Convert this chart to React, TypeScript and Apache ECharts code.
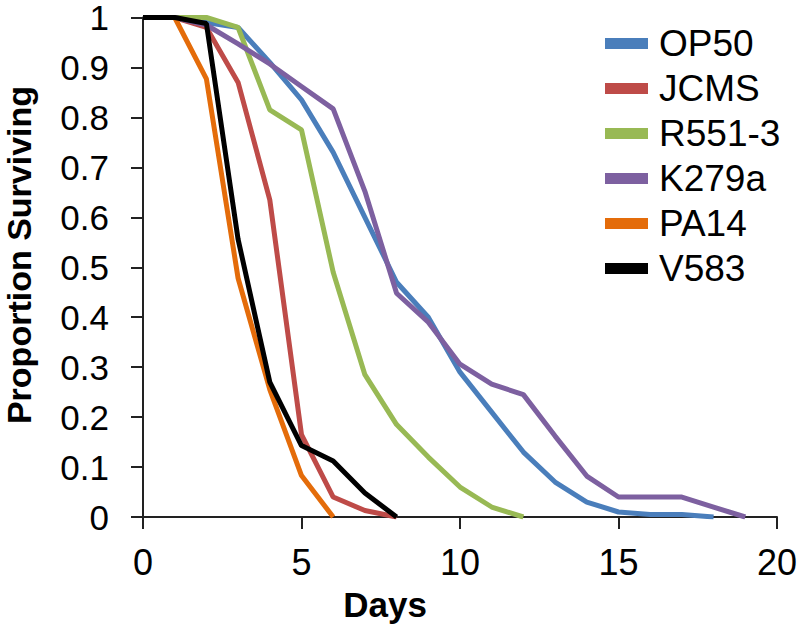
import React, { useEffect, useRef } from "react";
import * as echarts from "echarts";

const days = [0, 1, 2, 3, 4, 5, 6, 7, 8, 9, 10, 11, 12, 13, 14, 15, 16, 17, 18, 19];
const seriesNames = ["OP50", "JCMS", "R551-3", "K279a", "PA14", "V583"];
const seriesColors = ["#4A7EBB", "#BE4B48", "#98B954", "#7D60A0", "#E46C0A", "#000000"];

const op50 = [1, 1, 0.99, 0.98, 0.91, 0.835, 0.73, 0.6, 0.47, 0.4, 0.29, 0.21, 0.13, 0.07, 0.03, 0.01, 0.005, 0.005, 0];
const jcms = [1, 1, 0.98, 0.87, 0.635, 0.165, 0.04, 0.013, 0];
const r5513 = [1, 1, 1, 0.98, 0.815, 0.775, 0.49, 0.285, 0.185, 0.12, 0.06, 0.02, 0];
const k279a = [1, 1, 0.985, 0.947, 0.907, 0.862, 0.817, 0.652, 0.448, 0.39, 0.306, 0.266, 0.245, 0.162, 0.082, 0.04, 0.04, 0.04, 0.02, 0];
const pa14 = [1, 1, 0.877, 0.478, 0.255, 0.083, 0];
const v583 = [1, 1, 0.988, 0.556, 0.27, 0.143, 0.112, 0.048, 0];

const allValues = [op50, jcms, r5513, k279a, pa14, v583];

const xTicks = [0, 5, 10, 15, 20];
const FONT = "'Liberation Sans', Arial, sans-serif";

export default function App() {
  const ref = useRef<HTMLDivElement>(null);
  useEffect(() => {
    document.body.style.margin = "0";
    const chart = echarts.init(ref.current!, null, { renderer: "svg" });
    const series = seriesNames.map((name, i) => ({
      name,
      type: "line",
      data: allValues[i].map((v, d) => [days[d], v]),
      showSymbol: false,
      symbol: "none",
      lineStyle: { color: seriesColors[i], width: 5 },
      itemStyle: { color: seriesColors[i] },
      z: 2 + i,
    }));
    chart.setOption({
      animation: false,
      backgroundColor: "#ffffff",
      grid: { left: 143, right: 20, top: 15, bottom: 111, containLabel: false },
      xAxis: {
        type: "value",
        min: xTicks[0],
        max: xTicks[xTicks.length - 1],
        interval: 5,
        splitLine: { show: false },
        axisLine: { show: true, onZero: false, lineStyle: { color: "#222", width: 2 } },
        axisTick: { show: true, length: 12, lineStyle: { color: "#222", width: 2 } },
        axisLabel: { fontFamily: FONT, fontSize: 36, color: "#000", margin: 27 },
      },
      yAxis: {
        type: "value",
        min: 0,
        max: 1,
        interval: 0.1,
        splitLine: { show: false },
        axisLine: { show: true, onZero: false, lineStyle: { color: "#222", width: 2 } },
        axisTick: { show: true, length: 12, lineStyle: { color: "#222", width: 2 } },
        axisLabel: {
          fontFamily: FONT,
          fontSize: 35,
          lineHeight: 26,
          color: "#000",
          margin: 34,
          formatter: (v: number) => String(Number(v.toFixed(1))),
        },
      },
      legend: {
        orient: "vertical",
        left: 600,
        top: 20,
        icon: "rect",
        itemWidth: 43,
        itemHeight: 11,
        itemGap: 8,
        data: seriesNames,
        textStyle: { fontFamily: FONT, fontSize: 37, color: "#000", lineHeight: 37, padding: [0, 0, 0, 6] },
      },
      graphic: [
        {
          type: "text",
          x: 385,
          y: 604,
          style: {
            text: "Days",
            fontFamily: FONT,
            fontSize: 35,
            fontWeight: "bold",
            fill: "#000",
            align: "center",
            verticalAlign: "middle",
          },
        },
        {
          type: "text",
          x: 19,
          y: 255,
          rotation: Math.PI / 2,
          style: {
            text: "Proportion Surviving",
            fontFamily: FONT,
            fontSize: 34,
            lineHeight: 30,
            fontWeight: "bold",
            fill: "#000",
            align: "center",
            verticalAlign: "middle",
          },
        },
      ],
      series,
    });
    return () => chart.dispose();
  }, []);
  return <div ref={ref} style={{ width: 800, height: 628, position: "absolute", left: 0, top: 0 }} />;
}
